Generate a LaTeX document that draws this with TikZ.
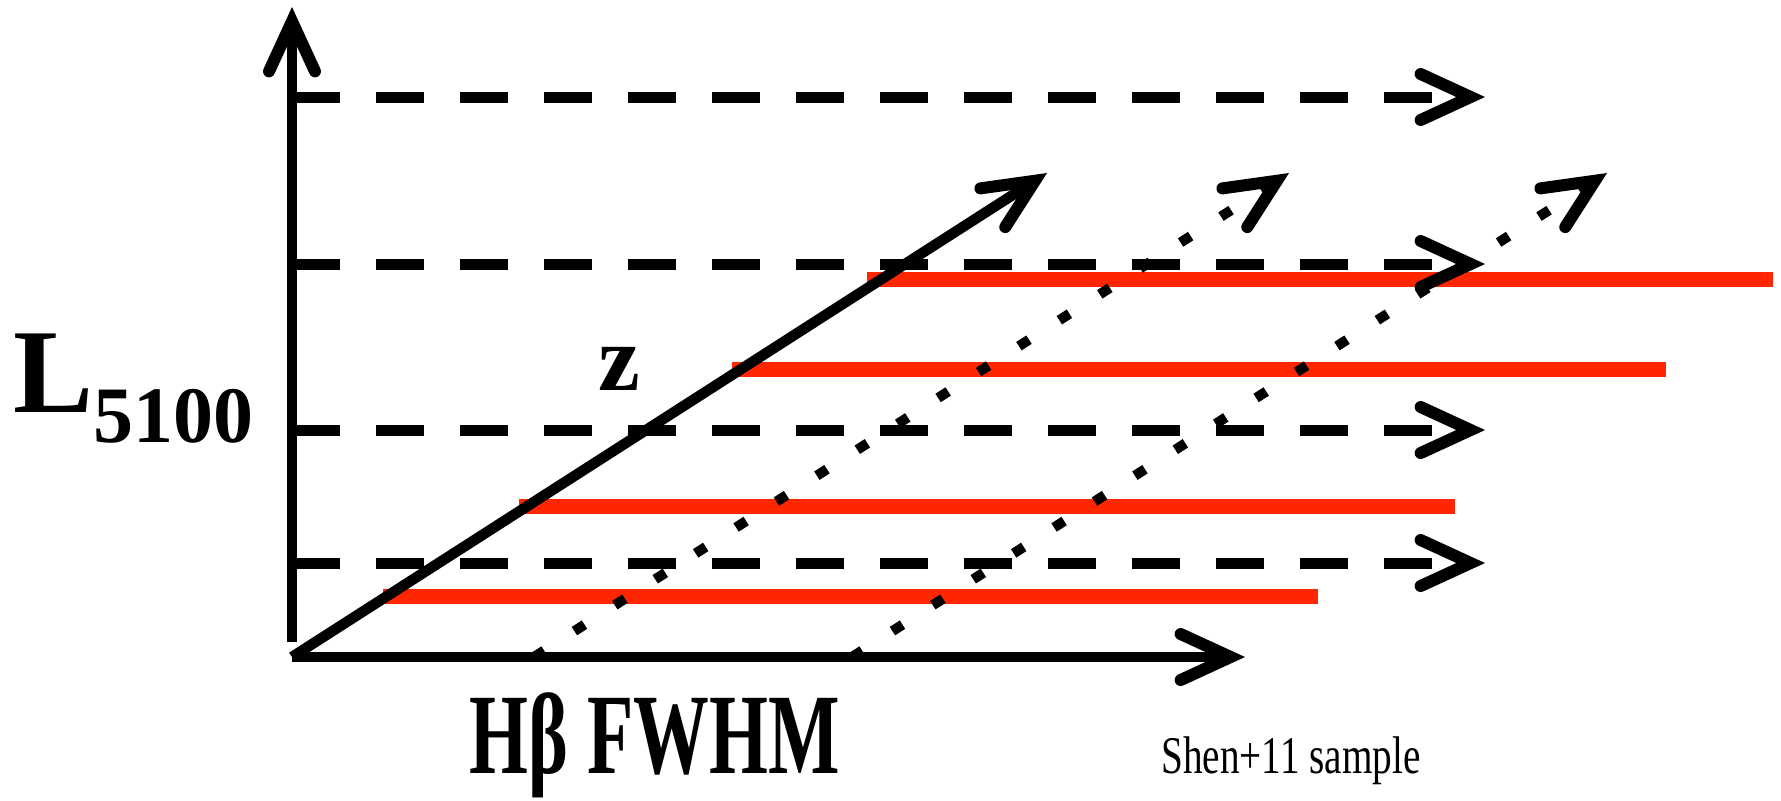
\documentclass[tikz,border=0pt]{standalone}
\usepackage{fontspec}
\setmainfont{Liberation Serif}
\newfontfamily\narrowserif[FakeStretch=0.66]{Liberation Serif}
\newfontfamily\narrowlight[FakeStretch=0.74]{Liberation Serif}
\usetikzlibrary{arrows.meta}
\definecolor{barred}{RGB}{255,38,0}
\begin{document}
\begin{tikzpicture}[x=0.5pt,y=-0.5pt,
  barb/.style={-{Straight Barb[length=25pt,width=23pt,line width=6pt,line cap=round,line join=miter]}},
  axisline/.style={line width=5.25pt,barb},
  dashline/.style={line width=5.5pt,dash pattern=on 24pt off 18pt,barb},
  zline/.style={line width=5.25pt,barb},
  dotline/.style={line width=5pt,dash pattern=on 6pt off 18pt,barb},
  redbar/.style={line width=7.5pt,barred},
  lab/.style={anchor=base west,inner sep=0pt}]
\useasboundingbox (0,0) rectangle (1781,800);

% sample bands
\draw[redbar] (867,279.5) -- (1773,279.5);
\draw[redbar] (732,369.5) -- (1666,369.5);
\draw[redbar] (519,506) -- (1455,506);
\draw[redbar] (383,596) -- (1318,596);

% luminance levels
\draw[dashline] (292,97) -- (1485,97);
\draw[dashline] (292,264) -- (1485,264);
\draw[dashline] (292,430) -- (1485,430);
\draw[dashline] (292,563) -- (1485,563);

% redshift directions
\draw[dotline] (534,657) -- (1289,173);
\draw[dotline] (852,657) -- (1607,173);
\draw[zline] (292,657) -- (1047,173);

% axes
\draw[axisline] (292,642) -- (292,7);
\draw[axisline] (292,657) -- (1245,657);

% labels
\node[lab,font=\bfseries\fontsize{60pt}{60pt}\selectfont] (ylab) at (13,412)
  {L\raisebox{-15pt}{\fontsize{40pt}{40pt}\selectfont 5100}};
\node[lab,font=\bfseries\fontsize{47pt}{47pt}\selectfont] (zlab) at (598,390) {z};
\node[lab,font=\narrowserif\bfseries\fontsize{57.4pt}{57.4pt}\selectfont] (xlab) at (469,773) {Hβ FWHM};
\node[lab,font=\narrowlight\fontsize{26.5pt}{26.5pt}\selectfont] (sample) at (1161,773) {Shen+11 sample};
\end{tikzpicture}
\end{document}
